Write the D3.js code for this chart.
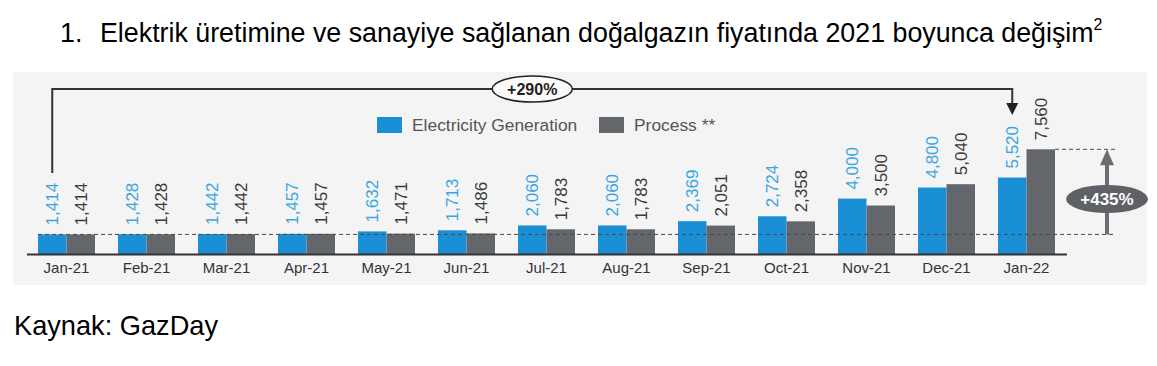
<!DOCTYPE html>
<html>
<head>
<meta charset="utf-8">
<script src="https://cdnjs.cloudflare.com/ajax/libs/d3/7.8.5/d3.min.js"></script>
<style>
    body { margin: 0; background: #fff; }
    svg { display: block; font-family: "Liberation Sans", Arial, sans-serif; }
</style>
</head>
<body>
<script>
"use strict";

var months = ["Jan-21", "Feb-21", "Mar-21", "Apr-21", "May-21", "Jun-21", "Jul-21",
    "Aug-21", "Sep-21", "Oct-21", "Nov-21", "Dec-21", "Jan-22"];
var electricity = [1.414, 1.428, 1.442, 1.457, 1.632, 1.713, 2.060, 2.060, 2.369, 2.724, 4.000, 4.800, 5.520];
var process = [1.414, 1.428, 1.442, 1.457, 1.471, 1.486, 1.783, 1.783, 2.051, 2.358, 3.500, 5.040, 7.560];
var seriesNames = ["Electricity Generation", "Process **"];
var colors = ["#1b8fd5", "#63666b"];
var labelColors = ["#3aa5e0", "#3a3a3a"];

function init() {
    var w = 1157, h = 366;

    var svg = d3.select("body").append("svg")
        .attr("width", w)
        .attr("height", h);

    // title
    var title = svg.append("text")
        .attr("y", 42)
        .attr("font-size", 26.8)
        .attr("fill", "#000");
    title.append("tspan").attr("x", 60).text("1.");
    title.append("tspan").attr("x", 100)
        .text("Elektrik üretimine ve sanayiye sağlanan doğalgazın fiyatında 2021 boyunca değişim");
    title.append("tspan").attr("dy", -12).attr("font-size", 16).text("2");

    // panel
    svg.append("rect")
        .attr("x", 13).attr("y", 72)
        .attr("width", 1134).attr("height", 213)
        .attr("fill", "#f4f4f4");

    var x0 = d3.scaleBand()
        .domain(months)
        .range([26.5, 1066.5])
        .paddingInner(0.2875)
        .paddingOuter(0.14375);

    var x1 = d3.scaleBand()
        .domain([0, 1])
        .range([0, x0.bandwidth()]);

    var y = d3.scaleLinear()
        .domain([0, 7.56])
        .range([254, 149.3]);

    var rows = months.map(function (m, i) {
        return { month: m, values: [electricity[i], process[i]] };
    });

    var groups = svg.selectAll("g.month")
        .data(rows)
        .enter()
        .append("g")
        .attr("class", "month")
        .attr("transform", function (d) { return "translate(" + x0(d.month) + ",0)"; });

    //Create bars
    groups.selectAll("rect")
        .data(function (d) { return d.values; })
        .enter()
        .append("rect")
        .attr("x", function (d, i) { return x1(i); })
        .attr("y", function (d) { return y(d); })
        .attr("width", x1.bandwidth())
        .attr("height", function (d) { return y(0) - y(d); })
        .attr("fill", function (d, i) { return colors[i]; });

    // rotated value labels
    groups.selectAll("text")
        .data(function (d) { return d.values; })
        .enter()
        .append("text")
        .attr("transform", function (d, i) {
            return "translate(" + (x1(i) + x1.bandwidth() / 2) + "," + (y(d) - 9) + ") rotate(-90)";
        })
        .attr("dy", "0.36em")
        .attr("font-size", 17)
        .attr("fill", function (d, i) { return labelColors[i]; })
        .text(function (d) { return d3.format(",.3f")(d).replace(".", ","); });

    // dashed reference lines
    var first = months[0], last = months[months.length - 1];
    var dash = svg.append("g")
        .attr("stroke", "#4a4a4a")
        .attr("stroke-width", 1)
        .attr("stroke-dasharray", "4,3");
    dash.append("line")
        .attr("x1", x0(first)).attr("x2", 1115)
        .attr("y1", y(process[0])).attr("y2", y(process[0]));
    dash.append("line")
        .attr("x1", x0(last) + x0.bandwidth()).attr("x2", 1115)
        .attr("y1", y(process[12])).attr("y2", y(process[12]));

    // x axis
    var axis = svg.append("g")
        .attr("transform", "translate(0," + y(0) + ")")
        .call(d3.axisBottom(x0).tickSize(0).tickSizeOuter(0).tickPadding(8));
    axis.select(".domain").attr("stroke", "#333").attr("stroke-width", 2);
    axis.selectAll("text")
        .attr("font-size", 15)
        .attr("font-family", "Liberation Sans, Arial, sans-serif")
        .attr("fill", "#333");

    // +435% arrow
    var ax = 1107;
    svg.append("line")
        .attr("x1", ax).attr("x2", ax)
        .attr("y1", y(process[0])).attr("y2", y(process[12]) + 14)
        .attr("stroke", "#6d6e71").attr("stroke-width", 4);
    svg.append("path")
        .attr("d", "M" + (ax - 7) + "," + (y(process[12]) + 16) + "L" + ax + "," + y(process[12]) +
            "L" + (ax + 7) + "," + (y(process[12]) + 16) + "Z")
        .attr("fill", "#6d6e71");
    svg.append("ellipse")
        .attr("cx", ax).attr("cy", 199)
        .attr("rx", 41).attr("ry", 14)
        .attr("fill", "#5f6166");
    svg.append("text")
        .attr("x", ax).attr("y", 199)
        .attr("dy", "0.36em")
        .attr("text-anchor", "middle")
        .attr("font-size", 17)
        .attr("font-weight", "bold")
        .attr("fill", "#fff")
        .text("+435%");

    // +290% bracket
    var bx1 = x0(first) + x1(0) + x1.bandwidth() / 2;
    var bx2 = x0(last) + x1(0) + x1.bandwidth() / 2;
    svg.append("path")
        .attr("d", "M" + bx1 + ",173V89H" + bx2 + "V104")
        .attr("fill", "none")
        .attr("stroke", "#333")
        .attr("stroke-width", 2);
    svg.append("path")
        .attr("d", "M" + (bx2 - 6) + ",103L" + bx2 + ",115L" + (bx2 + 6) + ",103Z")
        .attr("fill", "#222");
    var bmid = (bx1 + bx2) / 2;
    svg.append("ellipse")
        .attr("cx", bmid).attr("cy", 89)
        .attr("rx", 40).attr("ry", 13)
        .attr("fill", "#fafafa")
        .attr("stroke", "#222")
        .attr("stroke-width", 1.5);
    svg.append("text")
        .attr("x", bmid).attr("y", 89)
        .attr("dy", "0.36em")
        .attr("text-anchor", "middle")
        .attr("font-size", 16)
        .attr("font-weight", "bold")
        .attr("fill", "#222")
        .text("+290%");

    // legend
    var legendX = [377, 599];
    var legend = svg.selectAll("g.legend")
        .data(seriesNames)
        .enter()
        .append("g")
        .attr("class", "legend")
        .attr("transform", function (d, i) { return "translate(" + legendX[i] + ",117)"; });
    legend.append("rect")
        .attr("width", 25).attr("height", 16)
        .attr("fill", function (d, i) { return colors[i]; });
    legend.append("text")
        .attr("x", 35).attr("y", 14)
        .attr("font-size", 17.4)
        .attr("fill", "#555")
        .text(function (d) { return d; });

    // source
    svg.append("text")
        .attr("x", 14).attr("y", 335)
        .attr("font-size", 27.2)
        .attr("fill", "#000")
        .text("Kaynak: GazDay");
}

window.onload = init;
</script>
</body>
</html>
